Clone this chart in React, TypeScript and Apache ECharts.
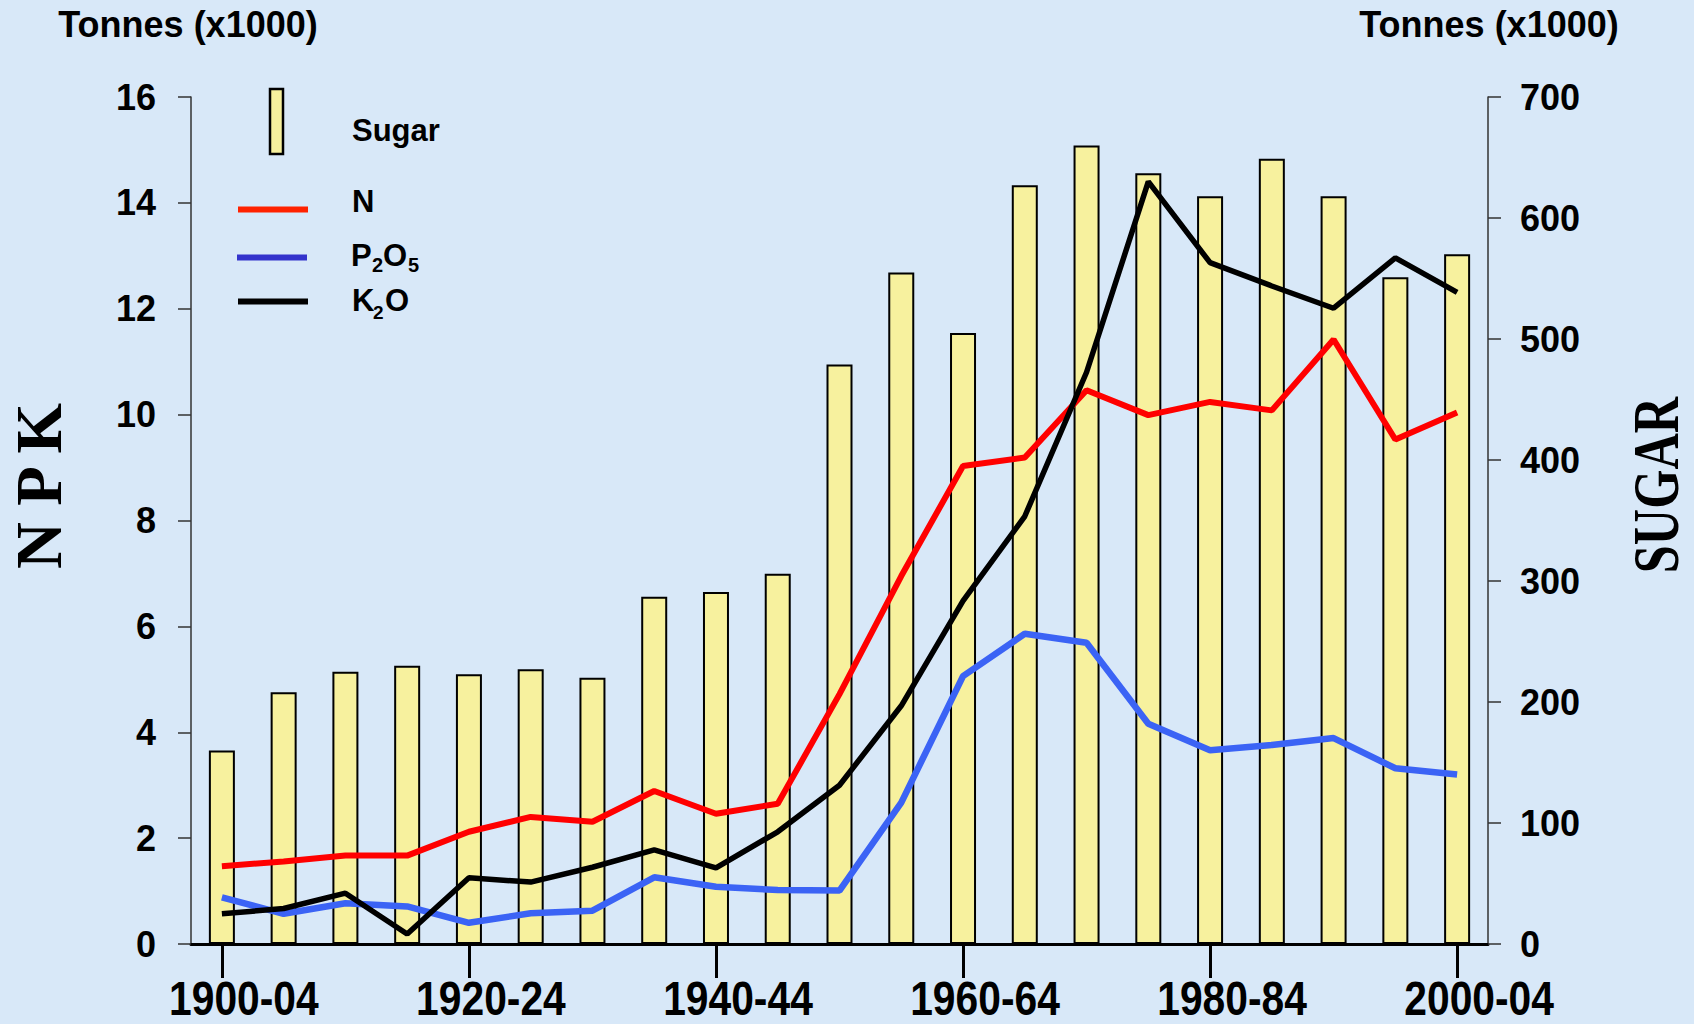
import React, { useEffect, useRef } from "react";
import * as echarts from "echarts";

const categories = [
  "1900-04", "1905-09", "1910-14", "1915-19", "1920-24", "1925-29", "1930-34",
  "1935-39", "1940-44", "1945-49", "1950-54", "1955-59", "1960-64", "1965-69",
  "1970-74", "1975-79", "1980-84", "1985-89", "1990-94", "1995-99", "2000-04",
];

const sugar = [160, 208, 225, 230, 223, 227, 220, 287, 291, 306, 479, 555, 505, 627, 660, 637, 618, 649, 618, 551, 570];
const nitrogen = [1.47, 1.56, 1.67, 1.67, 2.12, 2.4, 2.31, 2.89, 2.46, 2.65, 4.72, 6.95, 9.03, 9.19, 10.46, 9.99, 10.24, 10.08, 11.42, 9.53, 10.04];
const phosphate = [0.88, 0.57, 0.77, 0.71, 0.4, 0.58, 0.63, 1.26, 1.08, 1.02, 1.01, 2.67, 5.06, 5.86, 5.69, 4.16, 3.66, 3.76, 3.89, 3.32, 3.2];
const potash = [0.57, 0.67, 0.96, 0.19, 1.25, 1.17, 1.45, 1.78, 1.44, 2.12, 3.0, 4.5, 6.48, 8.08, 10.8, 14.4, 12.87, 12.43, 12.01, 12.96, 12.31];

const leftTicks = { min: 0, max: 16, interval: 2 };
const rightTicks = { min: 0, max: 700, interval: 100 };
const labelEvery = 4;

const SANS = "'Liberation Sans', Arial, Helvetica, sans-serif";
const SERIF = "'Liberation Serif', 'Times New Roman', serif";

function txt(text: string, x: number, y: number, size: number, extra: any = {}) {
  const { style: extraStyle, ...rest } = extra;
  return {
    type: "text",
    x,
    y,
    z: 100,
    ...rest,
    style: {
      text,
      fill: "#000",
      fontSize: size,
      fontWeight: "bold",
      fontFamily: SANS,
      textAlign: "left",
      align: "left",
      textVerticalAlign: "middle",
      verticalAlign: "middle",
      ...(extraStyle || {}),
    },
  };
}

export default function App() {
  const ref = useRef<HTMLDivElement>(null);
  useEffect(() => {
    if (!ref.current) return;
    const chart = echarts.init(ref.current, null, { renderer: "svg" });
    const tickLabel = { color: "#000", fontSize: 36, fontWeight: "bold", fontFamily: SANS };
    const option: any = {
      animation: false,
      backgroundColor: "#d8e8f8",
      grid: { left: 191, right: 206, top: 97, bottom: 80, containLabel: false },
      xAxis: {
        type: "category",
        data: categories,
        boundaryGap: true,
        axisLine: { show: true, lineStyle: { color: "#000", width: 3 } },
        axisTick: { show: true, interval: labelEvery - 1, alignWithLabel: true, length: 34, lineStyle: { color: "#000", width: 3 } },
        axisLabel: { show: false },
        splitLine: { show: false },
      },
      yAxis: [
        {
          type: "value",
          position: "left",
          ...leftTicks,
          axisLine: { show: true, lineStyle: { color: "#333", width: 1.5 } },
          axisTick: { show: true, length: 13, lineStyle: { color: "#333", width: 1.5 } },
          axisLabel: { ...tickLabel, margin: 35 },
          splitLine: { show: false },
        },
        {
          type: "value",
          position: "right",
          ...rightTicks,
          axisLine: { show: true, lineStyle: { color: "#333", width: 1.5 } },
          axisTick: { show: true, length: 13, lineStyle: { color: "#333", width: 1.5 } },
          axisLabel: { ...tickLabel, margin: 32 },
          splitLine: { show: false },
        },
      ],
      series: [
        {
          name: "Sugar",
          type: "bar",
          yAxisIndex: 1,
          data: sugar,
          barWidth: 26,
          itemStyle: { color: "#f7f19e", borderColor: "#000", borderWidth: 2 },
          z: 2,
        },
        {
          name: "N",
          type: "line",
          yAxisIndex: 0,
          data: nitrogen,
          showSymbol: false,
          symbol: "none",
          lineStyle: { color: "#ff0000", width: 6 },
          z: 5,
        },
        {
          name: "P2O5",
          type: "line",
          yAxisIndex: 0,
          data: phosphate,
          showSymbol: false,
          symbol: "none",
          lineStyle: { color: "#3b63f5", width: 6.5 },
          z: 4,
        },
        {
          name: "K2O",
          type: "line",
          yAxisIndex: 0,
          data: potash,
          showSymbol: false,
          symbol: "none",
          lineStyle: { color: "#000", width: 5.5 },
          z: 6,
        },
      ],
    };
    chart.setOption(option);

    // x-axis category labels, placed from the axis scale (condensed look via scaleX)
    const baseY = chart.convertToPixel({ yAxisIndex: 0 }, 0) as number;
    const xLabels: any[] = [];
    categories.forEach((c, i) => {
      if (i % labelEvery !== 0) return;
      const px = chart.convertToPixel({ xAxisIndex: 0 }, c) as number;
      xLabels.push(
        txt(c, px + 22, baseY + 54, 48, {
          scaleX: 0.85,
          style: { textAlign: "center", align: "center" },
        })
      );
    });

    const graphic: any[] = [
      txt("Tonnes (x1000)", 188, 24, 36, { style: { textAlign: "center", align: "center" } }),
      txt("Tonnes (x1000)", 1489, 24, 36, { style: { textAlign: "center", align: "center" } }),
      txt("N P K", 39, 486, 65, {
        rotation: Math.PI / 2,
        style: { textAlign: "center", align: "center", fontFamily: SERIF },
      }),
      txt("SUGAR", 1656, 485, 65, {
        rotation: Math.PI / 2,
        scaleX: 0.775,
        style: { textAlign: "center", align: "center", fontFamily: SERIF },
      }),
      {
        type: "rect",
        z: 100,
        shape: { x: 270, y: 89, width: 13, height: 65 },
        style: { fill: "#f7f19e", stroke: "#000", lineWidth: 2.5 },
      },
      txt("Sugar", 352, 130, 31),
      { type: "line", z: 100, shape: { x1: 238, y1: 209.5, x2: 308, y2: 209.5 }, style: { stroke: "#ff2200", lineWidth: 6 } },
      txt("N", 352, 201, 31),
      { type: "line", z: 100, shape: { x1: 237, y1: 257.5, x2: 307, y2: 257.5 }, style: { stroke: "#3333cc", lineWidth: 6 } },
      txt("P", 351, 255, 31),
      txt("2", 372, 265, 20),
      txt("O", 383, 255, 31),
      txt("5", 408, 265, 20),
      { type: "line", z: 100, shape: { x1: 238, y1: 301.5, x2: 308, y2: 301.5 }, style: { stroke: "#000", lineWidth: 6 } },
      txt("K", 352, 300, 31),
      txt("2", 373, 312, 19),
      txt("O", 385, 300, 31),
      ...xLabels,
    ];
    chart.setOption({ graphic });
    return () => chart.dispose();
  }, []);
  return <div ref={ref} style={{ position: "absolute", left: 0, top: 0, width: 1694, height: 1024 }} />;
}
